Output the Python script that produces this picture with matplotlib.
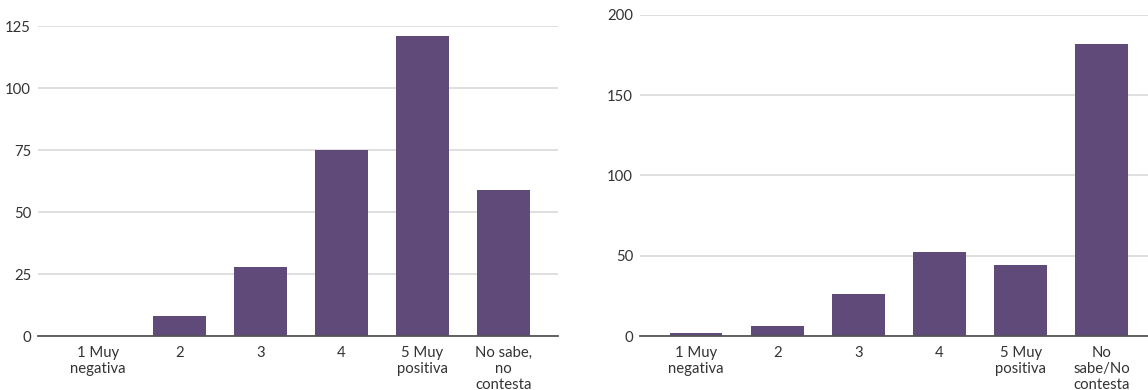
import matplotlib.pyplot as plt

plt.rcParams['font.family'] = ['Lato', 'DejaVu Sans']

# survey answers, two questions side by side
labels_a = ['1 Muy\nnegativa', '2', '3', '4', '5 Muy\npositiva', 'No sabe,\nno\ncontesta']
counts_a = [0, 8, 28, 75, 121, 59]
ticks_a = [0, 25, 50, 75, 100, 125]

labels_b = ['1 Muy\nnegativa', '2', '3', '4', '5 Muy\npositiva', 'No\nsabe/No\ncontesta']
counts_b = [2, 6, 26, 52, 44, 182]
ticks_b = [0, 50, 100, 150, 200]

BAR = '#5f4a7a'
GRID = '#d9d9d9'
TEXT = '#333333'

W, H = 1148, 390
fig = plt.figure(figsize=(W / 100, H / 100), dpi=100)


def panel(rect, labels, counts, ticks, xlim):
    ax = fig.add_axes(rect)
    x = list(range(len(labels)))
    ax.bar(x, counts, width=0.65, color=BAR, zorder=3)
    ax.set_xlim(*xlim)
    ax.set_ylim(ticks[0], ticks[-1])
    ax.set_yticks(ticks)
    ax.set_xticks(x)
    ax.set_xticklabels(labels, linespacing=1.18)
    ax.grid(axis='y', color=GRID, linewidth=1.2, zorder=0)
    for s in ['top', 'right', 'left']:
        ax.spines[s].set_visible(False)
    ax.spines['bottom'].set_color('#555555')
    ax.spines['bottom'].set_linewidth(1.3)
    ax.spines['bottom'].set_zorder(4)
    ax.tick_params(axis='both', length=0, labelsize=10.7, colors=TEXT)
    ax.tick_params(axis='y', pad=5)
    ax.tick_params(axis='x', pad=7)
    ax.set_axisbelow(True)
    return ax


bottom = (H - 336) / H
# left panel
top_a = (H - 26) / H
panel([38 / W, bottom, 520 / W, top_a - bottom], labels_a, counts_a, ticks_a, (-0.74, 5.67))
# right panel runs off the right edge
top_b = (H - 14.7) / H
panel([640 / W, bottom, 508 / W, top_b - bottom], labels_b, counts_b, ticks_b, (-0.69, 5.57))

fig.savefig('out.png', dpi=100)
